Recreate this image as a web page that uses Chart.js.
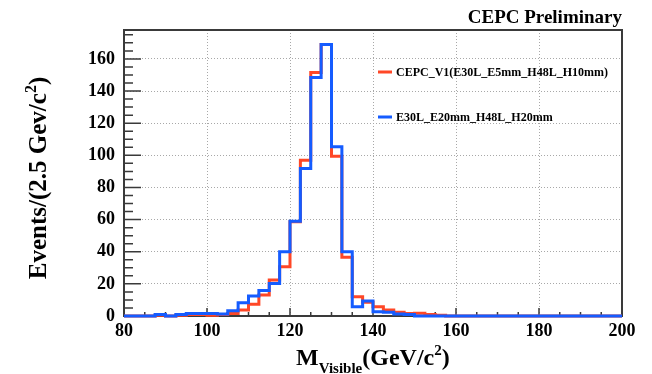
<!DOCTYPE html>
<html>
<head>
<meta charset="utf-8">
<script src="https://cdn.jsdelivr.net/npm/chart.js@4/dist/chart.umd.min.js"></script>
<style>
  html, body { margin: 0; padding: 0; background: #fff; }
</style>
</head>
<body>
<canvas id="histo" width="652" height="374"></canvas>
<script>
// histogram bins: 2.5 GeV wide, 80 -> 200
const binStart = 80;
const binWidth = 2.5;
const nBins = 48;
const xEdges = Array.from({ length: nBins + 1 }, (_, i) => binStart + binWidth * i);

// bin contents
const cepcV1 = [0, 0, 0, 0.5, 0, 0.5, 1, 1, 0.5, 1,
  1.5, 3.7, 7.3, 13, 22.4, 30.7, 58.7, 97, 151.5, 169,
  99.5, 36.5, 12, 8.5, 5.8, 3.7, 2.3, 1.5, 1.7, 1,
  0.5, 0, 0, 0, 0, 0, 0, 0, 0, 0,
  0, 0, 0, 0, 0, 0, 0, 0];
const e20mm = [0, 0, 0, 1, 0, 1, 1.5, 1.5, 1.5, 1.2,
  3.3, 8.3, 12.4, 15.8, 20.3, 40, 59, 91.8, 148.4, 169,
  105.3, 40, 5.8, 9.3, 2.7, 2.3, 1.2, 1, 0, 0,
  0, 0, 0, 0, 0, 0, 0, 0, 0, 0,
  0, 0, 0, 0, 0, 0, 0, 0];

const seriesNames = ["CEPC_V1(E30L_E5mm_H48L_H10mm)", "E30L_E20mm_H48L_H20mm"];
const xTicks = [80, 100, 120, 140, 160, 180, 200];
const yTicks = [0, 20, 40, 60, 80, 100, 120, 140, 160];
const xRange = [80, 200];
const yRange = [0, 178];
const minorStep = 5;

const serif = "'Liberation Serif', 'Times New Roman', serif";
const RED = "#ff4726";
const BLUE = "#155cff";

// one point per lower bin edge, plus the closing edge
function toSteps(values) {
    const pts = values.map((v, i) => ({ x: xEdges[i], y: v }));
    pts.push({ x: xEdges[nBins], y: values[nBins - 1] });
    return pts;
}

function drawRuns(ctx, runs, x, y) {
    let cx = x;
    for (const r of runs) {
        ctx.font = "bold " + r.size + "px " + serif;
        ctx.fillText(r.t, cx, y + (r.dy || 0));
        cx += ctx.measureText(r.t).width;
    }
    return cx - x;
}

function runsWidth(ctx, runs) {
    let w = 0;
    for (const r of runs) {
        ctx.font = "bold " + r.size + "px " + serif;
        w += ctx.measureText(r.t).width;
    }
    return w;
}

// ROOT-ish frame, inward ticks, legend and titles
const rootStyle = {
    id: "rootStyle",
    beforeDatasetsDraw(chart) {
        const ctx = chart.ctx;
        const a = chart.chartArea;
        const xs = chart.scales.x, ys = chart.scales.y;
        ctx.save();
        ctx.strokeStyle = "#3a3a3a";
        ctx.lineWidth = 1.5;
        ctx.beginPath();
        for (let v = xRange[0]; v <= xRange[1]; v += minorStep) {
            const px = xs.getPixelForValue(v);
            const len = v % 20 === 0 ? 8 : 4;
            ctx.moveTo(px, a.bottom);
            ctx.lineTo(px, a.bottom - len);
        }
        for (let v = yRange[0]; v <= yRange[1]; v += minorStep) {
            const py = ys.getPixelForValue(v);
            const len = v % 20 === 0 ? 17 : 9;
            ctx.moveTo(a.left, py);
            ctx.lineTo(a.left + len, py);
        }
        ctx.stroke();
        ctx.lineWidth = 2;
        ctx.strokeRect(a.left, a.top, a.right - a.left, a.bottom - a.top);
        ctx.restore();
    },
    afterDraw(chart) {
        const ctx = chart.ctx;
        ctx.save();
        ctx.fillStyle = "#000";

        // legend
        const legY = [72, 117];
        chart.data.datasets.forEach((ds, i) => {
            ctx.strokeStyle = ds.borderColor;
            ctx.lineWidth = 3;
            ctx.beginPath();
            ctx.moveTo(378, legY[i]);
            ctx.lineTo(392, legY[i]);
            ctx.stroke();
            ctx.font = "bold 12px " + serif;
            ctx.textBaseline = "middle";
            ctx.fillText(ds.label, 396, legY[i] + 1);
        });

        // top-right label
        ctx.textBaseline = "alphabetic";
        ctx.textAlign = "right";
        ctx.font = "bold 19px " + serif;
        ctx.fillText("CEPC Preliminary", 622, 23);
        ctx.textAlign = "left";

        // x title
        const xRuns = [
            { t: "M", size: 24 },
            { t: "Visible", size: 15, dy: 8 },
            { t: "(GeV/c", size: 24 },
            { t: "2", size: 15, dy: -10 },
            { t: ")", size: 24 }
        ];
        drawRuns(ctx, xRuns, 296, 365);

        // y title
        const yRuns = [
            { t: "Events/(2.5 Gev/c", size: 25 },
            { t: "2", size: 16, dy: -10 },
            { t: ")", size: 25 }
        ];
        const w = runsWidth(ctx, yRuns);
        ctx.translate(46, 178);
        ctx.rotate(-Math.PI / 2);
        drawRuns(ctx, yRuns, -w / 2, 0);
        ctx.restore();
    }
};

const tickFont = { family: serif, size: 18, weight: "bold" };

new Chart(document.getElementById("histo"), {
    type: "line",
    data: {
        datasets: [
            {
                label: seriesNames[0],
                data: toSteps(cepcV1),
                borderColor: RED,
                order: 2
            },
            {
                label: seriesNames[1],
                data: toSteps(e20mm),
                borderColor: BLUE,
                order: 1
            }
        ]
    },
    options: {
        responsive: false,
        animation: false,
        parsing: false,
        layout: { padding: { left: 0, right: 30, top: 30, bottom: 0 } },
        elements: {
            line: { stepped: "before", borderWidth: 3, fill: false, tension: 0, borderJoinStyle: "miter" },
            point: { radius: 0 }
        },
        datasets: { line: { clip: false } },
        plugins: {
            legend: { display: false },
            title: { display: false },
            tooltip: { enabled: false }
        },
        scales: {
            x: {
                type: "linear",
                min: xRange[0],
                max: xRange[1],
                afterBuildTicks: (s) => { s.ticks = xTicks.map((v) => ({ value: v })); },
                afterFit: (s) => { s.height = 58; },
                ticks: { font: tickFont, color: "#000", padding: 5, maxRotation: 0, autoSkip: false },
                grid: { color: "#a8a8a8", lineWidth: 1, drawTicks: false, tickLength: 0 },
                border: { display: false, dash: [1, 2] }
            },
            y: {
                type: "linear",
                min: yRange[0],
                max: yRange[1],
                afterBuildTicks: (s) => { s.ticks = yTicks.map((v) => ({ value: v })); },
                afterFit: (s) => { s.width = 124; },
                ticks: { font: tickFont, color: "#000", padding: 9 },
                grid: { color: "#a8a8a8", lineWidth: 1, drawTicks: false, tickLength: 0 },
                border: { display: false, dash: [1, 2] }
            }
        }
    },
    plugins: [rootStyle]
});
</script>
</body>
</html>
